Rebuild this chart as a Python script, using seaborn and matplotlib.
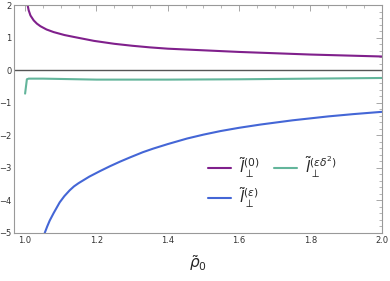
import numpy as np
import pandas as pd
import matplotlib
matplotlib.use("Agg")
import matplotlib.pyplot as plt
import seaborn as sns
from matplotlib.ticker import MultipleLocator

# =========================================
# DATA
# =========================================
rho_l0 = [1.007, 1.01, 1.015, 1.024, 1.033, 1.043, 1.06, 1.08, 1.11, 1.137, 1.165,
          1.193, 1.25, 1.3, 1.35, 1.4, 1.5, 1.6, 1.7, 1.8, 1.9, 2.0]
l0 = [2.0, 1.84, 1.68, 1.53, 1.43, 1.35, 1.25, 1.17, 1.08, 1.02, 0.96,
      0.90, 0.81, 0.75, 0.70, 0.66, 0.61, 0.56, 0.52, 0.48, 0.45, 0.42]

rho_leps = [1.055, 1.062, 1.069, 1.08, 1.097, 1.11, 1.125, 1.137, 1.15, 1.18, 1.21,
            1.238, 1.266, 1.294, 1.33, 1.359, 1.4, 1.454, 1.5, 1.548, 1.6, 1.66,
            1.75, 1.85, 1.92, 2.0]
leps = [-5.0, -4.80, -4.62, -4.39, -4.06, -3.87, -3.69, -3.57, -3.47, -3.27, -3.10,
        -2.95, -2.81, -2.68, -2.52, -2.41, -2.27, -2.10, -1.98, -1.87, -1.77, -1.67,
        -1.54, -1.42, -1.35, -1.28]

rho_led2 = [1.0, 1.005, 1.01, 1.05, 1.1, 1.2, 1.3, 1.4, 1.6, 1.8, 2.0]
led2 = [-0.72, -0.28, -0.26, -0.26, -0.27, -0.29, -0.29, -0.29, -0.28, -0.26, -0.24]

labels = [r'$\tilde{l}_{\perp}^{(0)}$', r'$\tilde{l}_{\perp}^{(\epsilon)}$',
          r'$\tilde{l}_{\perp}^{(\epsilon\delta^2)}$']
colors = ["#80208c", "#4466d6", "#63b59b"]

df = pd.concat([
    pd.DataFrame({"rho": rho_l0, "val": l0, "curve": labels[0]}),
    pd.DataFrame({"rho": rho_leps, "val": leps, "curve": labels[1]}),
    pd.DataFrame({"rho": rho_led2, "val": led2, "curve": labels[2]}),
])

# =========================================
# PLOT
# =========================================
sns.set_style("white")
fig = plt.figure(figsize=(3.9, 2.81), dpi=100)
ax = fig.add_axes([0.036, 0.171, 0.943, 0.811])

ax.axhline(0, color="#555555", lw=1.0, zorder=1)
sns.lineplot(data=df, x="rho", y="val", hue="curve", palette=colors,
             hue_order=labels, lw=1.5, sort=False, estimator=None, ax=ax)

ax.set_xlim(0.969, 2.0)
ax.set_ylim(-5, 2)
ax.xaxis.set_major_locator(MultipleLocator(0.2))
ax.xaxis.set_minor_locator(MultipleLocator(0.05))
ax.yaxis.set_major_locator(MultipleLocator(1))
ax.yaxis.set_minor_locator(MultipleLocator(0.2))
ax.xaxis.set_major_formatter(lambda v, p: f"{v:.1f}")
ax.yaxis.set_major_formatter(lambda v, p: f"{v:.0f}".replace("-", "\u2212"))
ax.tick_params(which="both", direction="in", top=True, right=True,
               color="#999999", labelsize=6, labelcolor="#333333", pad=2)
ax.tick_params(which="major", length=4, width=0.6)
ax.tick_params(which="minor", length=2, width=0.5)
for s in ax.spines.values():
    s.set_color("#999999")
    s.set_linewidth(0.8)

ax.set_ylabel("")
ax.set_xlabel(r'$\tilde{\rho}_0$', fontsize=11, labelpad=6)

h, l = ax.get_legend_handles_labels()
ax.legend(h, l, ncol=2, loc="lower left", bbox_to_anchor=(0.49, 0.04),
          frameon=False, fontsize=11, handlelength=1.5, columnspacing=1.0,
          handletextpad=0.5, labelspacing=0.4)

fig.savefig("out.png", dpi=100)
